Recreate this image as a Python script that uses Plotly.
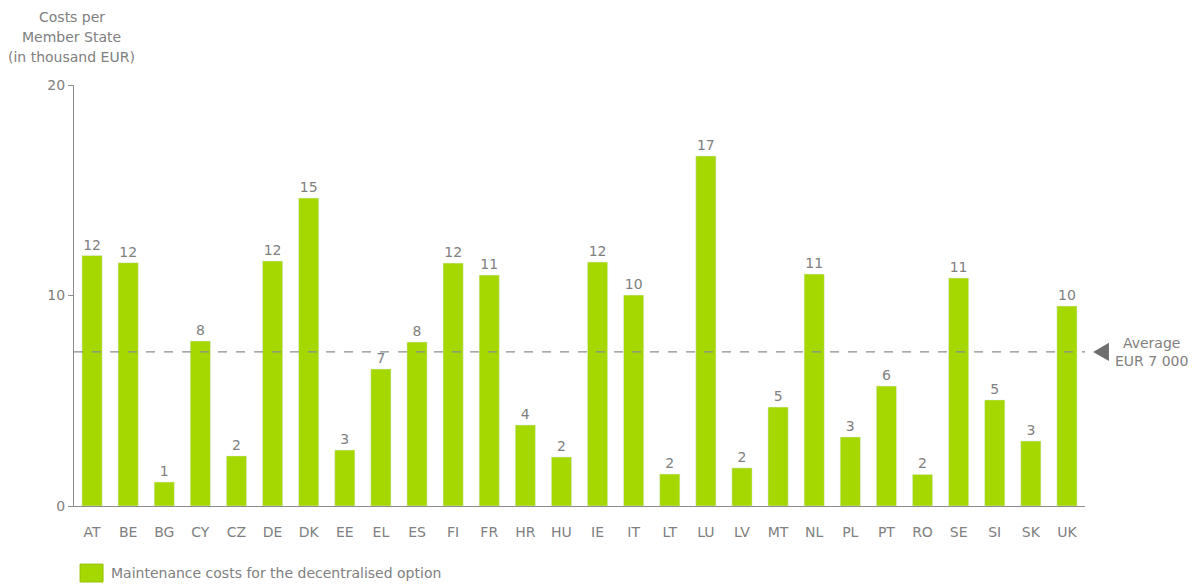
import plotly.graph_objects as go

countries = ["AT", "BE", "BG", "CY", "CZ", "DE", "DK", "EE", "EL", "ES", "FI", "FR", "HR", "HU",
             "IE", "IT", "LT", "LU", "LV", "MT", "NL", "PL", "PT", "RO", "SE", "SI", "SK", "UK"]
costs = [11.90, 11.56, 1.14, 7.84, 2.38, 11.64, 14.63, 2.66, 6.51, 7.79, 11.54, 10.97, 3.85, 2.33,
         11.59, 10.02, 1.52, 16.63, 1.81, 4.70, 11.02, 3.28, 5.70, 1.50, 10.83, 5.04, 3.09, 9.50]
labels = ["12", "12", "1", "8", "2", "12", "15", "3", "7", "8", "12", "11", "4", "2",
          "12", "10", "2", "17", "2", "5", "11", "3", "6", "2", "11", "5", "3", "10"]
average = 7.32
series_name = "Maintenance costs for the decentralised option"
y_title = ["Costs per", "Member State", "(in thousand EUR)"]

GREEN = "#a5d700"
GREY = "#808080"
AXIS = "#8c8c8c"
FONT = "DejaVu Sans"
FS = 14

fig = go.Figure(go.Bar(
    x=countries,
    y=costs,
    name=series_name,
    marker_color=GREEN,
    text=labels,
    textposition="outside",
    textfont=dict(color=GREY, size=FS, family=FONT),
    cliponaxis=False,
    showlegend=False,
))

# average line + marker
fig.add_hline(y=average, line=dict(color=AXIS, width=1.2, dash="dash"))
fig.add_shape(
    type="path", xref="paper", yref="y",
    path=f"M 1.008 {average} L 1.0237 {average + 0.43} L 1.0237 {average - 0.43} Z",
    fillcolor="#6e6e6e", line=dict(width=0),
)
fig.add_annotation(
    x=1.028, y=average, xref="paper", yref="y", xanchor="left", yanchor="middle",
    text="Average<br>EUR 7 000", showarrow=False, align="center",
    font=dict(color=GREY, size=FS, family=FONT),
)

# y-axis title, one line per annotation to get the wider line spacing
for i, line in enumerate(y_title):
    fig.add_annotation(
        x=-0.002, y=1.0, xref="paper", yref="paper", xanchor="center", yanchor="middle",
        yshift=68 - 20 * i, text=line, showarrow=False,
        font=dict(color=GREY, size=FS, family=FONT),
    )

# legend drawn by hand (square swatch)
fig.add_shape(
    type="rect", xref="paper", yref="paper",
    x0=0.006, x1=0.0287, y0=-0.138, y1=-0.1805,
    fillcolor=GREEN, line=dict(color="#93c000", width=1),
)
fig.add_annotation(
    x=0.035, y=-0.16, xref="paper", yref="paper", xanchor="left", yanchor="middle",
    text=series_name, showarrow=False,
    font=dict(color=GREY, size=FS, family=FONT),
)

# page body has an 8px margin, so the figure is a bit smaller and shifted
fig.update_layout(
    width=1192, height=576,
    plot_bgcolor="white", paper_bgcolor="white",
    font=dict(family=FONT, color=GREY, size=FS),
    margin=dict(l=66, r=115, t=77, b=78, autoexpand=False),
    bargap=0.44,
    showlegend=False,
)
fig.update_xaxes(
    showline=True, linecolor=AXIS, linewidth=1, ticks="", showgrid=False,
    ticklabelstandoff=13, tickfont=dict(color=GREY, size=FS),
)
fig.update_yaxes(
    range=[0, 20], tickvals=[0, 10, 20], showgrid=False, zeroline=False,
    showline=True, linecolor=AXIS, linewidth=1, ticks="outside", ticklen=5,
    tickcolor=AXIS, tickfont=dict(color=GREY, size=FS),
)

fig.write_html("out.html")
